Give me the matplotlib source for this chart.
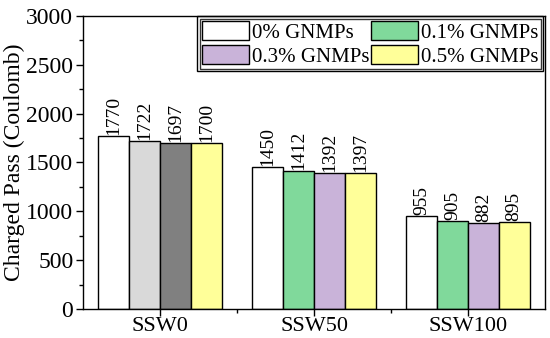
import matplotlib
matplotlib.use("Agg")
import matplotlib.pyplot as plt
import numpy as np
from matplotlib.patches import Rectangle
from matplotlib.ticker import MultipleLocator, FixedLocator
from matplotlib import font_manager

categories = ["SSW0", "SSW50", "SSW100"]
series_names = ["0% GNMPs", "0.1% GNMPs", "0.3% GNMPs", "0.5% GNMPs"]
v0 = [1770, 1450, 955]
v01 = [1722, 1412, 905]
v03 = [1697, 1392, 882]
v05 = [1700, 1397, 895]
values = [v0, v01, v03, v05]
colors = ["#ffffff", "#80d99b", "#c9b3d9", "#ffff99"]
first_group_colors = ["#ffffff", "#d9d9d9", "#808080", "#ffff99"]

names = sorted({f.name for f in font_manager.fontManager.ttflist})
serif = "Liberation Serif" if "Liberation Serif" in names else "DejaVu Serif"
plt.rcParams['font.family'] = [serif, 'DejaVu Serif']

fig = plt.figure(figsize=(5.5, 3.38), dpi=100)
ax = fig.add_axes([0.151, 0.0858, 0.84, 0.867])

x = np.arange(len(categories))
w = 0.2
handles = []
for i, (name, vals) in enumerate(zip(series_names, values)):
    pos = x + (i - 1.5) * w
    cols = [first_group_colors[i]] + [colors[i]] * (len(categories) - 1)
    ax.bar(pos, vals, width=w, color=cols, edgecolor="black", linewidth=1.0, label=name)
    handles.append(Rectangle((0, 0), 1, 1, facecolor=colors[i], edgecolor="black", linewidth=1.0))
    for p, v in zip(pos, vals):
        ax.text(p, v + 10, str(v), rotation=90, ha="center", va="bottom", fontsize=14)

ax.set_xlim(-0.5, 2.5)
ax.set_ylim(0, 3000)
ax.set_xticks(x)
ax.set_xticklabels(categories, fontsize=16)
ax.xaxis.set_minor_locator(FixedLocator([0.5, 1.5]))
ax.yaxis.set_major_locator(MultipleLocator(500))
ax.yaxis.set_minor_locator(MultipleLocator(250))
ax.tick_params(axis="y", which="major", labelsize=17, length=5, width=1, direction="out", pad=2)
ax.tick_params(axis="y", which="minor", length=3, width=1, direction="out")
ax.tick_params(axis="x", which="major", length=5, width=1, direction="out", pad=1)
ax.tick_params(axis="x", which="minor", length=3, width=1, direction="out")
ax.set_ylabel("Charged Pass (Coulomb)", fontsize=17, labelpad=1)
for s in ax.spines.values():
    s.set_linewidth(1.0)

order = [0, 2, 1, 3]
leg = ax.legend([handles[k] for k in order], [series_names[k] for k in order], ncol=2,
                loc="upper right", bbox_to_anchor=(0.991, 0.99),
                fontsize=15, frameon=True, fancybox=False, edgecolor="black",
                handlelength=2.25, handleheight=1.06, handletextpad=0.15, columnspacing=0.1,
                labelspacing=0.1, borderpad=0.1, borderaxespad=0.0)
leg.get_frame().set_linewidth(1.0)

fig.canvas.draw()
bb = leg.get_window_extent()
pad = 2.5
outer = Rectangle((bb.x0 - pad, bb.y0 - pad), bb.width + 2 * pad, bb.height + 2 * pad,
                  transform=None, fill=False, edgecolor="black", linewidth=1.0)
fig.patches.append(outer)

fig.savefig("out.png", dpi=100)
